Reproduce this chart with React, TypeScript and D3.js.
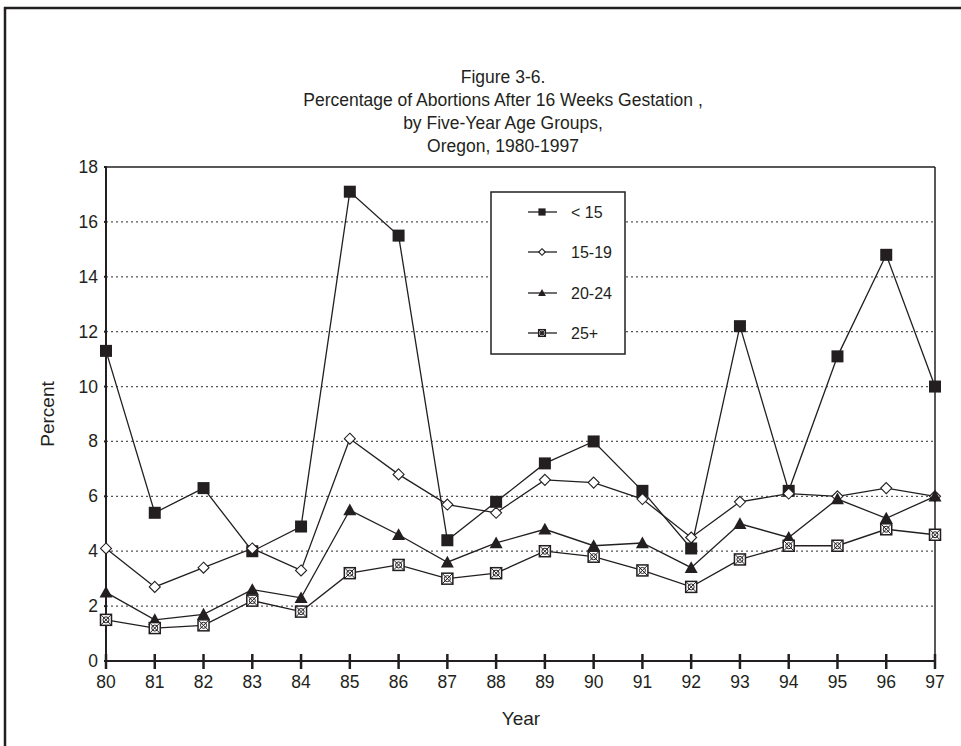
import React from "react";
import * as d3 from "d3";

const years = ["80","81","82","83","84","85","86","87","88","89","90","91","92","93","94","95","96","97"];
const under15 = [11.3,5.4,6.3,4.0,4.9,17.1,15.5,4.4,5.8,7.2,8.0,6.2,4.1,12.2,6.2,11.1,14.8,10.0];
const age15to19 = [4.1,2.7,3.4,4.1,3.3,8.1,6.8,5.7,5.4,6.6,6.5,5.9,4.5,5.8,6.1,6.0,6.3,6.0];
const age20to24 = [2.5,1.5,1.7,2.6,2.3,5.5,4.6,3.6,4.3,4.8,4.2,4.3,3.4,5.0,4.5,5.9,5.2,6.0];
const age25plus = [1.5,1.2,1.3,2.2,1.8,3.2,3.5,3.0,3.2,4.0,3.8,3.3,2.7,3.7,4.2,4.2,4.8,4.6];
const yTicks = [0,2,4,6,8,10,12,14,16,18];
const seriesNames = ["< 15","15-19","20-24","25+"];
const titleLines = ["Figure 3-6.","Percentage of Abortions After 16 Weeks Gestation ,","by Five-Year Age Groups,","Oregon, 1980-1997"];

const FONT = "'Liberation Sans', Arial, sans-serif";
const INK = "#231f20";

function Marker({ kind, x, y, small }: { kind: number; x: number; y: number; small?: boolean }) {
  const s = small ? 0.6 : 1;
  if (kind === 0) {
    const h = 6 * s;
    return <rect x={x - h} y={y - h} width={2 * h} height={2 * h} fill={INK} />;
  }
  if (kind === 1) {
    const h = 5.5 * s;
    return <path d={`M${x},${y - h}L${x + h},${y}L${x},${y + h}L${x - h},${y}Z`} fill="#fff" stroke={INK} strokeWidth={1.1} />;
  }
  if (kind === 2) {
    const h = 6.5 * s;
    return <path d={`M${x},${y - h}L${x + h},${y + h * 0.8}L${x - h},${y + h * 0.8}Z`} fill={INK} />;
  }
  const h = 5.5 * s;
  return (
    <g>
      <rect x={x - h} y={y - h} width={2 * h} height={2 * h} fill="#fff" stroke={INK} strokeWidth={1.5} />
      <path d={`M${x - h},${y - h}L${x + h},${y + h}M${x + h},${y - h}L${x - h},${y + h}`} stroke={INK} strokeWidth={1} />
      <circle cx={x} cy={y} r={h * 0.55} fill="none" stroke={INK} strokeWidth={1} />
    </g>
  );
}

export default function App() {
  const W = 961, H = 746;
  const left = 106, right = 935, top = 167, bottom = 661;
  const x = d3.scalePoint<string>().domain(years).range([left, right]);
  const y = d3.scaleLinear().domain([0, 18]).range([bottom, top]);
  const data = [under15, age15to19, age20to24, age25plus];
  const line = d3.line<number>().x((_, i) => x(years[i]) as number).y((d) => y(d));

  const legX = 491, legY = 192, legW = 134, legH = 162;
  const legRows = [212, 252, 293, 333];

  return (
    <svg width={W} height={H} style={{ position: "absolute", left: 0, top: 0, background: "#fff" }} fontFamily={FONT}>
      <rect x={0} y={0} width={W} height={H} fill="#fff" />
      {/* frame */}
      <line x1={4} y1={8} x2={W} y2={8} stroke={INK} strokeWidth={2.5} />
      <line x1={5} y1={7} x2={5} y2={H} stroke={INK} strokeWidth={2.5} />

      {/* title */}
      {titleLines.map((t, i) => (
        <text key={i} x={503} y={83 + i * 23} textAnchor="middle" fontSize={17.5} fill={INK}>{t}</text>
      ))}

      {/* gridlines */}
      {yTicks.filter((t) => t > 0 && t < 18).map((t) => (
        <line key={t} x1={left} x2={right} y1={y(t)} y2={y(t)} stroke="#555" strokeWidth={1.2} strokeDasharray="2,3" />
      ))}
      {/* plot box top and right */}
      <line x1={left} x2={right} y1={top} y2={top} stroke={INK} strokeWidth={1.5} />
      <line x1={right} x2={right} y1={top} y2={bottom} stroke={INK} strokeWidth={1.5} />
      {/* axes */}
      <line x1={left} x2={left} y1={top} y2={bottom} stroke={INK} strokeWidth={2} />
      <line x1={left} x2={right} y1={bottom} y2={bottom} stroke={INK} strokeWidth={2} />
      {yTicks.map((t) => (
        <g key={t}>
          <line x1={left - 2} x2={left + 1} y1={y(t)} y2={y(t)} stroke={INK} strokeWidth={2} />
          <text x={98} y={y(t) + 6} textAnchor="end" fontSize={17.5} fill={INK}>{t}</text>
        </g>
      ))}
      {years.map((yr) => (
        <g key={yr}>
          <line x1={x(yr)} x2={x(yr)} y1={bottom - 7} y2={bottom + 8} stroke={INK} strokeWidth={2.5} />
          <text x={x(yr)} y={bottom + 27} textAnchor="middle" fontSize={17.5} fill={INK}>{yr}</text>
        </g>
      ))}
      <text x={521} y={725} textAnchor="middle" fontSize={19} fill={INK}>Year</text>
      <text transform={`translate(54,${y(9)}) rotate(-90)`} textAnchor="middle" fontSize={19} fill={INK}>Percent</text>

      {/* series */}
      {data.map((s, k) => (
        <g key={k}>
          <path d={line(s) || ""} fill="none" stroke={INK} strokeWidth={1.3} />
          {s.map((v, i) => (
            <Marker key={i} kind={k} x={x(years[i]) as number} y={y(v)} />
          ))}
        </g>
      ))}

      {/* legend */}
      <rect x={legX} y={legY} width={legW} height={legH} fill="#fff" stroke={INK} strokeWidth={1.5} />
      {seriesNames.map((n, k) => (
        <g key={n}>
          <line x1={528} x2={557} y1={legRows[k]} y2={legRows[k]} stroke={INK} strokeWidth={1.3} />
          <Marker kind={k} x={542} y={legRows[k]} small />
          <text x={571} y={legRows[k] + 6} fontSize={16} fill={INK}>{n}</text>
        </g>
      ))}
    </svg>
  );
}
